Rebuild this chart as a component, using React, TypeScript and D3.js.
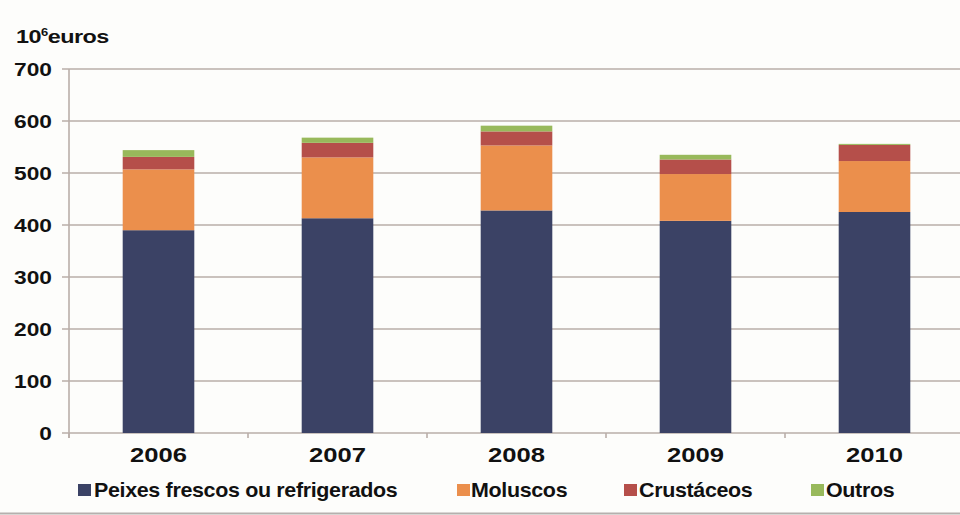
import React from "react";
import * as d3 from "d3";

const years = ["2006", "2007", "2008", "2009", "2010"];
const seriesNames = ["Peixes frescos ou refrigerados", "Moluscos", "Crustáceos", "Outros"];
const peixes = [390, 413, 428, 408, 425];
const moluscos = [117, 117, 125, 90, 98];
const crustaceos = [24, 28, 27, 28, 31];
const outros = [13, 10, 11, 9, 2];
const yTicks = [0, 100, 200, 300, 400, 500, 600, 700];
const colors = ["#3b4265", "#eb8f4c", "#b54f4a", "#98b95b"];

const W = 960;
const H = 515;
const left = 69;
const right = 964;
const top = 69;
const bottom = 433;

export default function App() {
  const rows = years.map((y, i) => ({
    year: y,
    s0: peixes[i],
    s1: moluscos[i],
    s2: crustaceos[i],
    s3: outros[i],
  }));
  const stack = d3.stack<any>().keys(["s0", "s1", "s2", "s3"]);
  const layers = stack(rows);

  const x = d3.scaleBand<string>().domain(years).range([left, right]).paddingInner(0.6).paddingOuter(0.3);
  const y = d3.scaleLinear().domain([0, 700]).range([bottom, top]);
  const step = x.step();
  const tickXs = years.map((yr) => (x(yr) as number) - (step - x.bandwidth()) / 2);
  tickXs.push((x(years[years.length - 1]) as number) + x.bandwidth() + (step - x.bandwidth()) / 2);

  const font = "'Liberation Sans', Arial, sans-serif";
  const grid = "#b9aea9";
  const ink = "#111";

  const legendItems = [
    { sq: 78, tx: 94 },
    { sq: 457, tx: 471 },
    { sq: 624, tx: 639 },
    { sq: 811, tx: 826 },
  ];

  return (
    <svg
      width={W}
      height={H}
      style={{ position: "fixed", left: 0, top: 0, background: "#fdfdfb" }}
      fontFamily={font}
      fontWeight="bold"
    >
      <rect x={0} y={0} width={W} height={H} fill="#fdfdfb" />
      {yTicks.map((t) => (
        <line key={t} x1={62} x2={W} y1={y(t)} y2={y(t)} stroke={grid} strokeWidth={1.6} />
      ))}
      <line x1={left} x2={left} y1={y(700)} y2={y(0) + 5} stroke={grid} strokeWidth={1.6} />
      {tickXs.map((tx, i) => (
        <line key={i} x1={tx} x2={tx} y1={y(0)} y2={y(0) + 5} stroke={grid} strokeWidth={1.6} />
      ))}
      {layers.map((layer, li) => (
        <g key={li} fill={colors[li]}>
          {layer.map((d, i) => (
            <rect
              key={i}
              x={x(years[i])}
              width={x.bandwidth()}
              y={y(d[1])}
              height={y(d[0]) - y(d[1])}
            />
          ))}
        </g>
      ))}
      {yTicks.map((t) => (
        <text
          key={t}
          transform={`translate(52,${y(t) + 6.5}) scale(1.3,1)`}
          textAnchor="end"
          fontSize={17.5}
          fill={ink}
        >
          {t}
        </text>
      ))}
      <text transform="translate(16,43) scale(1.3,1)" fontSize={18} fill={ink} letterSpacing={-0.4}>
        10
        <tspan fontSize={10} dy={-7}>6</tspan>
        <tspan dy={7}>euros</tspan>
      </text>
      {years.map((yr) => (
        <text
          key={yr}
          transform={`translate(${(x(yr) as number) + x.bandwidth() / 2},462) scale(1.22,1)`}
          textAnchor="middle"
          fontSize={21}
          fill={ink}
        >
          {yr}
        </text>
      ))}
      {seriesNames.map((n, i) => (
        <g key={n}>
          <rect x={legendItems[i].sq} y={484} width={13} height={12} fill={colors[i]} />
          <text
            transform={`translate(${legendItems[i].tx},496.5) scale(1.1,1)`}
            fontSize={19.5}
            letterSpacing={-0.3}
            fill={ink}
          >
            {n}
          </text>
        </g>
      ))}
      <line x1={0} x2={W} y1={513.5} y2={513.5} stroke="#b5b0ad" strokeWidth={2} />
    </svg>
  );
}
